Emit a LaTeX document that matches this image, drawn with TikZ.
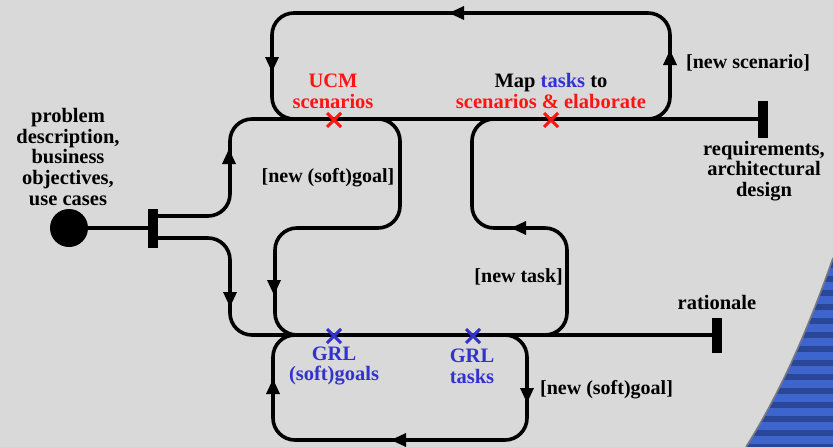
\documentclass[tikz,border=0pt]{standalone}
\usepackage{fontspec}
\setmainfont{Liberation Serif}
\usetikzlibrary{calc}

\definecolor{bggray}{RGB}{217,217,217}
\definecolor{ucmred}{RGB}{255,20,20}
\definecolor{grlblue}{RGB}{50,50,205}
\definecolor{stripelight}{RGB}{62,100,205}
\definecolor{stripedark}{RGB}{42,70,150}
\definecolor{edgegray}{RGB}{120,120,130}

\tikzset{
  path line/.style={line width=3.6pt, rounded corners=22pt},
  lbl/.style={font=\fontsize{20.5}{20.8}\selectfont\bfseries, align=center, inner sep=0pt},
  guard/.style={font=\fontsize{20}{21}\selectfont\bfseries, inner sep=0pt},
  endbar/.style={fill=black, inner sep=0pt, minimum width=10pt},
  startpt/.style={circle, fill=black, inner sep=0pt, minimum size=38pt},
  xmark/.style={line width=3pt},
}

% filled arrowhead centred at #1, pointing along angle #2
\newcommand\headat[2]{%
  \fill[shift={#1}, rotate=#2] (8pt,0pt) -- (-7pt,7pt) -- (-7pt,-7pt) -- cycle;}
% responsibility cross centred at #1
\newcommand\crossat[2]{%
  \draw[xmark, #2] ($#1+(-7,-7)$) -- ($#1+(7,7)$) ($#1+(-7,7)$) -- ($#1+(7,-7)$);}

\begin{document}
\begin{tikzpicture}[x=1pt, y=-1pt]
  \fill[bggray] (0,0) rectangle (833,447);
  \useasboundingbox (0,0) rectangle (833,447);

  % striped corner decoration
  \begin{scope}
    \clip (833,258) .. controls (812,318) and (785,385) .. (746,447) -- (833,447) -- cycle;
    \fill[stripelight] (740,250) rectangle (833,447);
    \foreach \k in {0,...,14} {
      \fill[stripedark] (740,{262+14*\k}) rectangle (833,{268+14*\k});
    }
  \end{scope}
  \draw[edgegray, line width=1.6pt] (833,258) .. controls (812,318) and (785,385) .. (746,447);

  % start point, fork and end bars
  \node[startpt] (start) at (69,228) {};
  \node[endbar, minimum height=39pt] (fork) at (153,228) {};
  \node[endbar, minimum height=37pt] (req) at (763,119) {};
  \node[endbar, minimum height=35pt] (rat) at (717,335) {};

  \draw[line width=3.6pt] (start) -- (fork);

  % UCM path: fork -> scenarios -> requirements
  \draw[path line] ($(fork.east)+(0,-12)$) -- (230,216) -- (230,119) -- (req.west);
  % GRL path: fork -> goals and tasks -> rationale
  \draw[path line] ($(fork.east)+(0,10)$) -- (230,238) -- (230,335) -- (rat.west);

  % loop: new scenario
  \draw[path line] (630,119) -- (670,119) -- (670,13) -- (272,13) -- (272,119) -- (310,119);
  % loop: new (soft)goal, UCM to GRL
  \draw[path line] (360,119) -- (400,119) -- (400,228) -- (275,228) -- (275,335) -- (315,335);
  % loop: new task, GRL to UCM
  \draw[path line] (527,335) -- (567,335) -- (567,228) -- (472,228) -- (472,119) -- (512,119);
  % loop: new (soft)goal on the GRL side
  \draw[path line] (490,335) -- (527,335) -- (527,440) -- (273,440) -- (273,335) -- (313,335);

  % direction arrowheads
  \headat{(229,157)}{90}
  \headat{(230,299)}{-90}
  \headat{(457,13)}{180}
  \headat{(272,64)}{-90}
  \headat{(670,58)}{90}
  \headat{(274,287)}{-90}
  \headat{(519,228)}{180}
  \headat{(527,395)}{-90}
  \headat{(399,440)}{180}
  \headat{(273,387)}{90}

  % responsibilities
  \crossat{(334,120)}{ucmred}
  \crossat{(551,120)}{ucmred}
  \crossat{(334,336)}{grlblue}
  \crossat{(473,336)}{grlblue}

  % labels
  \node[lbl] (inputs) at (68,157) {problem\\description,\\business\\objectives,\\use cases};
  \node[lbl] (outputs) at (764,171) {requirements,\\architectural\\design};
  \node[lbl] (ratl) at (717,302) {rationale};
  \node[lbl, text=ucmred] (ucm) at (333,91) {UCM\\scenarios};
  \node[lbl] (map) at (551,91) {Map \textcolor{grlblue}{tasks} to\\\textcolor{ucmred}{scenarios \& elaborate}};
  \node[lbl, text=grlblue] (goals) at (334,366) {GRL\\(soft)goals};
  \node[lbl, text=grlblue] (tasks) at (472,366) {GRL\\tasks};

  % guards
  \node[guard, anchor=west] (g1) at (686,63) {[new scenario]};
  \node[guard] (g2) at (328,178) {[new (soft)goal]};
  \node[guard, anchor=east] (g3) at (563,277) {[new task]};
  \node[guard, anchor=west] (g4) at (540,390) {[new (soft)goal]};
\end{tikzpicture}
\end{document}
